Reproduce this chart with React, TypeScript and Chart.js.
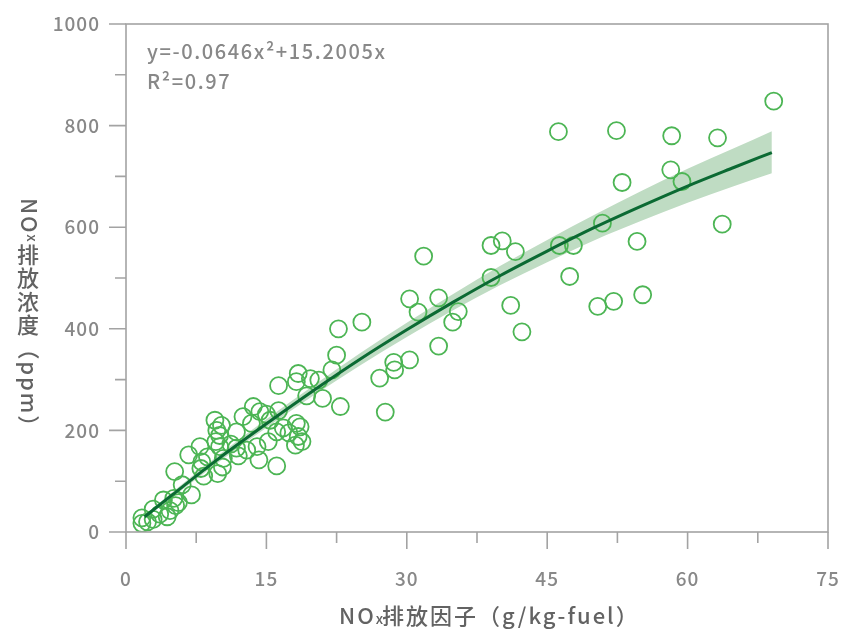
import React, { useEffect, useRef } from 'react';
import { Chart, registerables } from 'chart.js';

Chart.register(...registerables);

// ---- data ----
const POINT_X = [
  1.7, 1.7, 2.3, 2.9, 2.9, 3.6, 4.0, 4.4, 4.7, 5.1, 5.3, 5.6, 5.2, 6.0, 6.7, 7.0, 7.9, 8.0, 8.1, 8.3,
  8.7, 9.5, 9.7, 9.6, 10.0, 10.2, 10.0, 10.4, 10.3, 9.8, 11.2, 11.8, 11.8, 12.0, 12.5, 12.9, 13.4, 13.6, 14.0, 14.2,
  14.3, 15.0, 15.4, 15.2, 16.1, 16.1, 16.3, 16.3, 16.8, 17.4, 18.1, 18.2, 18.4, 18.6, 18.8, 18.2, 18.4, 19.3, 19.7, 20.6,
  21.0, 22.0, 22.5, 22.7, 22.9, 25.2, 27.1, 27.7, 28.6, 28.7, 30.3, 30.3, 31.2, 31.8, 33.4, 33.4, 34.9, 35.5, 39.0, 40.2,
  39.0, 41.6, 41.1, 42.3, 46.2, 46.3, 47.8, 47.4, 50.4, 50.9, 52.1, 52.4, 53.0, 54.6, 55.2, 58.3, 58.2, 59.4, 63.2, 63.7,
  69.2,
];
const POINT_Y = [
  17, 28, 20, 25, 45, 35, 63, 30, 42, 66, 52, 58, 119, 93, 152, 73, 168, 125, 138, 110,
  148, 220, 200, 178, 190, 210, 168, 145, 128, 115, 173, 197, 165, 150, 227, 161, 214, 247, 168, 142,
  237, 232, 220, 178, 197, 130, 239, 288, 205, 195, 171, 214, 188, 207, 178, 296, 312, 268, 302, 299,
  263, 319, 348, 400, 247, 413, 303, 236, 334, 319, 339, 459, 433, 543, 461, 366, 413, 434, 564, 573,
  501, 552, 446, 394, 788, 564, 564, 503, 444, 608, 454, 790, 688, 572, 467, 780, 713, 690, 776, 606,
  848,
];

// fitted curve y=-0.0646x²+15.2005x and its confidence band, read at these x values
const FIT_X = [2, 5, 10, 15, 20, 25, 30, 35, 40, 45, 50, 55, 60, 65, 69];
const FIT_Y = [30, 74, 146, 213, 278, 340, 398, 453, 505, 553, 599, 641, 681, 718, 747];
const BAND_HI = [33, 79, 153, 222, 288, 352, 412, 469, 524, 575, 624, 671, 715, 756, 789];
const BAND_LO = [27, 69, 139, 205, 268, 328, 384, 437, 486, 531, 574, 612, 648, 681, 706];

const X_LABELS = [0, 15, 30, 45, 60, 75];
const Y_LABELS = [0, 200, 400, 600, 800, 1000];

const EQUATION = 'y=-0.0646x²+15.2005x';
const R_SQUARED = 'R²=0.97';

const X_TITLE = ['NO', 'x', '排放因子（g/kg-fuel）'];
const Y_TITLE = ['NO', 'x', '排放浓度', '（ppm）'];

// ---- styles ----
const FONT = '"Noto Sans CJK SC", "Noto Sans", sans-serif';
const AXIS_COLOR = '#a3a3a3';
const TICK_TEXT = '#888888';
const TITLE_COLOR = '#636363';
const POINT_COLOR = '#4cb554';
const LINE_COLOR = '#0b6a33';
const BAND_COLOR = '#bfdcc3';

const isMajor = (v: number, step: number) => Math.abs(v / step - Math.round(v / step)) < 1e-6;

const decorPlugin = {
  id: 'decor',
  beforeUpdate(chart: any) {
    chart.ctx.letterSpacing = '1px';
  },
  beforeDraw(chart: any) {
    chart.ctx.letterSpacing = '1px';
  },
  afterDraw(chart: any) {
    const { ctx, chartArea: ca, scales } = chart;
    const xs = scales.x;
    const ys = scales.y;
    ctx.save();
    // frame
    ctx.strokeStyle = AXIS_COLOR;
    ctx.lineWidth = 1.6;
    ctx.strokeRect(ca.left, ca.top, ca.right - ca.left, ca.bottom - ca.top);
    // tick marks
    ctx.beginPath();
    xs.ticks.forEach((t: any) => {
      const px = xs.getPixelForValue(t.value);
      const len = isMajor(t.value, 15) ? 17 : 11;
      ctx.moveTo(px, ca.bottom);
      ctx.lineTo(px, ca.bottom + len);
    });
    ys.ticks.forEach((t: any) => {
      const py = ys.getPixelForValue(t.value);
      const len = isMajor(t.value, 200) ? 17 : 11;
      ctx.moveTo(ca.left, py);
      ctx.lineTo(ca.left - len, py);
    });
    ctx.stroke();

    // equation
    ctx.fillStyle = TICK_TEXT;
    ctx.font = `500 20px ${FONT}`;
    ctx.letterSpacing = '1.6px';
    ctx.textAlign = 'left';
    ctx.textBaseline = 'alphabetic';
    ctx.fillText(EQUATION, ca.left + 21, ca.top + 35);
    ctx.fillText(R_SQUARED, ca.left + 21, ca.top + 65);

    // x title
    ctx.fillStyle = TITLE_COLOR;
    ctx.letterSpacing = '2px';
    const big = `500 22px ${FONT}`;
    const small = `500 14px ${FONT}`;
    let tx = 339;
    const base = 624;
    ctx.font = big;
    ctx.fillText(X_TITLE[0], tx, base);
    tx += ctx.measureText(X_TITLE[0]).width;
    ctx.font = small;
    ctx.fillText(X_TITLE[1], tx, base);
    tx += ctx.measureText(X_TITLE[1]).width;
    ctx.font = big;
    ctx.fillText(X_TITLE[2], tx - 3, base);

    // y title (vertical writing: latin rotated, CJK upright)
    const cx = 29;
    let y = 198;
    ctx.letterSpacing = '1.8px';
    const rot = (text: string, font: string, dx: number) => {
      ctx.font = font;
      const w = ctx.measureText(text).width;
      ctx.save();
      ctx.translate(cx + dx, y);
      ctx.rotate(Math.PI / 2);
      ctx.textAlign = 'left';
      ctx.textBaseline = 'middle';
      ctx.fillText(text, 0, 0);
      ctx.restore();
      y += w;
    };
    rot(Y_TITLE[0], big, 0);
    rot(Y_TITLE[1], small, 3);
    ctx.font = big;
    ctx.textAlign = 'center';
    ctx.textBaseline = 'top';
    for (const ch of Y_TITLE[2]) {
      ctx.fillText(ch, cx, y);
      y += 23.5;
    }
    rot(Y_TITLE[3], big, 0);
    ctx.restore();
  },
};

export default function App() {
  const ref = useRef<HTMLCanvasElement | null>(null);

  useEffect(() => {
    document.body.style.margin = '0';
    if (!ref.current) return;
    const pts = POINT_X.map((x, i) => ({ x, y: POINT_Y[i] }));
    const fit = FIT_X.map((x, i) => ({ x, y: FIT_Y[i] }));
    const hi = FIT_X.map((x, i) => ({ x, y: BAND_HI[i] }));
    const lo = FIT_X.map((x, i) => ({ x, y: BAND_LO[i] }));

    const tickFont = { family: FONT, size: 19, weight: '500' };

    const chart = new Chart(ref.current, {
      type: 'scatter',
      data: {
        datasets: [
          {
            type: 'line',
            data: hi,
            borderWidth: 0,
            pointRadius: 0,
            backgroundColor: BAND_COLOR,
            fill: '+1',
            cubicInterpolationMode: 'monotone',
            order: 3,
          } as any,
          {
            type: 'line',
            data: lo,
            borderWidth: 0,
            pointRadius: 0,
            fill: false,
            cubicInterpolationMode: 'monotone',
            order: 3,
          } as any,
          {
            type: 'scatter',
            data: pts,
            pointRadius: 8.5,
            pointBorderWidth: 1.8,
            pointBorderColor: POINT_COLOR,
            pointBackgroundColor: 'rgba(0,0,0,0)',
            order: 2,
          } as any,
          {
            type: 'line',
            data: fit,
            borderColor: LINE_COLOR,
            borderWidth: 3,
            pointRadius: 0,
            fill: false,
            cubicInterpolationMode: 'monotone',
            order: 1,
          } as any,
        ],
      },
      options: {
        animation: false,
        responsive: true,
        maintainAspectRatio: false,
        events: [],
        layout: { padding: { left: 0, right: 14, top: 24, bottom: 0 } },
        plugins: { legend: { display: false }, tooltip: { enabled: false } },
        scales: {
          x: {
            type: 'linear',
            min: 0,
            max: 75,
            grid: { display: true, drawOnChartArea: false, drawTicks: false },
            border: { display: false },
            ticks: {
              stepSize: 7.5,
              autoSkip: false,
              maxRotation: 0,
              padding: 35,
              color: TICK_TEXT,
              font: tickFont,
              callback: (v: any) => (X_LABELS.some((l) => Math.abs(l - v) < 1e-6) ? String(Math.round(v)) : ''),
            },
            afterFit: (s: any) => {
              s.height = 103;
              s.paddingLeft = 0;
              s.paddingRight = 0;
              s.paddingTop = 0;
              s.paddingBottom = 0;
            },
          },
          y: {
            type: 'linear',
            min: 0,
            max: 1000,
            grid: { display: true, drawOnChartArea: false, drawTicks: false },
            border: { display: false },
            ticks: {
              stepSize: 100,
              autoSkip: false,
              padding: 26,
              color: TICK_TEXT,
              font: tickFont,
              callback: (v: any) => (Y_LABELS.some((l) => Math.abs(l - v) < 1e-6) ? String(Math.round(v)) : ''),
            },
            afterFit: (s: any) => {
              s.width = 126;
              s.paddingLeft = 0;
              s.paddingRight = 0;
              s.paddingTop = 0;
              s.paddingBottom = 0;
            },
          },
        },
      } as any,
      plugins: [decorPlugin],
    });
    return () => chart.destroy();
  }, []);

  return (
    <div style={{ width: 842, height: 635, position: 'relative' }}>
      <canvas ref={ref} />
    </div>
  );
}
